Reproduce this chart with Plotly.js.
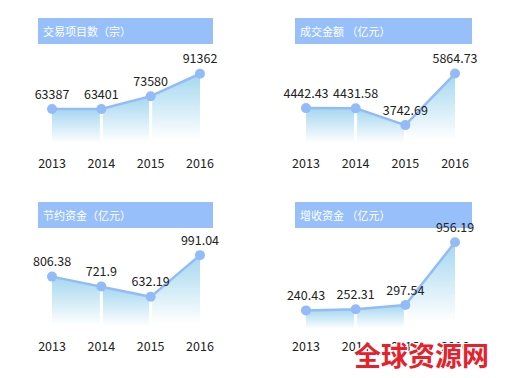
<!DOCTYPE html>
<html><head><meta charset="utf-8">
<script src="https://cdn.plot.ly/plotly-3.0.1.min.js"></script>
<style>html,body{margin:0;padding:0;background:#fff}#chart{width:508px;height:378px}</style>
</head><body><div id="chart"></div>
<script>
// ---- data ----
const years = [2013, 2014, 2015, 2016];
const yearLabels = ['2013', '2014', '2015', '2016'];
const panelTitles = ['交易项目数（宗）', '成交金额 （亿元）', '节约资金（亿元）', '增收资金 （亿元）'];
const projectCount = [63387, 63401, 73580, 91362];
const dealAmount = [4442.43, 4431.58, 3742.69, 5864.73];
const savedFunds = [806.38, 721.9, 632.19, 991.04];
const addedRevenue = [240.43, 252.31, 297.54, 956.19];
const watermark = '全球资源网';

// ---- layout helpers ----
const W = 508, H = 378;
const px = x => x / W;
const py = y => 1 - y / H;
const FONT = '"Noto Sans CJK SC", "Noto Sans", sans-serif';
const lineColor = '#93bbf8';
const barColor = '#97c0fb';

const panels = [
  {vals: projectCount, xd: [38, 213], xr: [2012.716, 2016.264], yd: [147, 50], yr: [33294, 110192], bar: [38, 213, 18, 44]},
  {vals: dealAmount,   xd: [295, 472], xr: [2012.779, 2016.342], yd: [147, 50], yr: [2842.9, 6831.4], bar: [295, 472, 18, 44]},
  {vals: savedFunds,   xd: [38, 213], xr: [2012.716, 2016.264], yd: [331, 235], yr: [338, 1164.6], bar: [38, 213, 202, 228]},
  {vals: addedRevenue, xd: [295, 472], xr: [2012.779, 2016.342], yd: [331, 235], yr: [23.8, 1033.3], bar: [295, 472, 202, 228]}
];

const traces = [];
const layout = {
  width: W, height: H,
  margin: {l: 0, r: 0, t: 0, b: 0},
  paper_bgcolor: '#fff', plot_bgcolor: 'rgba(0,0,0,0)',
  showlegend: false,
  font: {family: FONT, color: '#222', size: 12},
  shapes: [], annotations: []
};

panels.forEach((p, i) => {
  const n = i + 1;
  const xa = 'x' + (n === 1 ? '' : n), ya = 'y' + (n === 1 ? '' : n);
  const xk = 'xaxis' + (n === 1 ? '' : n), yk = 'yaxis' + (n === 1 ? '' : n);
  layout[xk] = {
    domain: [px(p.xd[0]), px(p.xd[1])], range: p.xr, anchor: ya,
    showgrid: false, zeroline: false, showline: false, ticks: '',
    tickvals: years, ticktext: yearLabels, ticklabelstandoff: i < 2 ? 7 : 6,
    tickfont: {family: FONT, size: 12.5, color: '#222'}, fixedrange: true
  };
  layout[yk] = {
    domain: [py(p.yd[0]), py(p.yd[1])], range: p.yr, anchor: xa,
    visible: false, showgrid: false, zeroline: false, fixedrange: true
  };
  // gradient fill, one segment at a time
  for (let k = 0; k < years.length - 1; k++) {
    const seg = [p.vals[k], p.vals[k + 1]];
    traces.push({
      type: 'scatter', mode: 'none', xaxis: xa, yaxis: ya,
      x: [years[k], years[k + 1]], y: seg,
      fill: 'tozeroy',
      fillgradient: {type: 'vertical', start: p.yr[0], stop: Math.max(...seg),
        colorscale: [[0, 'rgba(255,255,255,1)'], [0.1, 'rgba(255,255,255,1)'], [1, '#a4d7ef']]},
      hoverinfo: 'skip'
    });
  }
  // white separators between segments
  for (let k = 1; k < years.length - 1; k++) {
    traces.push({
      type: 'scatter', mode: 'lines', xaxis: xa, yaxis: ya,
      x: [years[k], years[k]], y: [p.yr[0], p.vals[k]],
      line: {color: '#ffffff', width: 3}, hoverinfo: 'skip', cliponaxis: true
    });
  }
  // line + markers + labels
  traces.push({
    type: 'scatter', mode: 'lines+markers+text', xaxis: xa, yaxis: ya,
    x: years, y: p.vals, text: p.vals.map(String), textposition: 'top center',
    textfont: {family: FONT, size: 12.5, color: '#222'},
    line: {color: lineColor, width: 2.5},
    marker: {color: lineColor, size: 10},
    cliponaxis: false
  });
  const b = p.bar;
  layout.shapes.push({type: 'rect', xref: 'paper', yref: 'paper',
    x0: px(b[0]), x1: px(b[1]), y0: py(b[3]), y1: py(b[2]),
    fillcolor: barColor, line: {width: 0}, layer: 'below'});
  layout.annotations.push({xref: 'paper', yref: 'paper', x: px(b[0] + 3), y: py((b[2] + b[3]) / 2),
    xanchor: 'left', yanchor: 'middle', showarrow: false, text: panelTitles[i],
    font: {family: FONT, size: 11, color: '#ffffff'}});
});

layout.annotations.push({xref: 'paper', yref: 'paper', x: px(421), y: py(354),
  xanchor: 'center', yanchor: 'middle', showarrow: false, text: '<b>' + watermark + '</b>',
  font: {family: FONT, size: 27, color: '#e6212b',
    shadow: '1px 1px 0 #fff, -1px -1px 0 #fff, 1px -1px 0 #fff, -1px 1px 0 #fff'}});

Plotly.newPlot('chart', traces, layout, {displayModeBar: false, staticPlot: true});
</script></body></html>
